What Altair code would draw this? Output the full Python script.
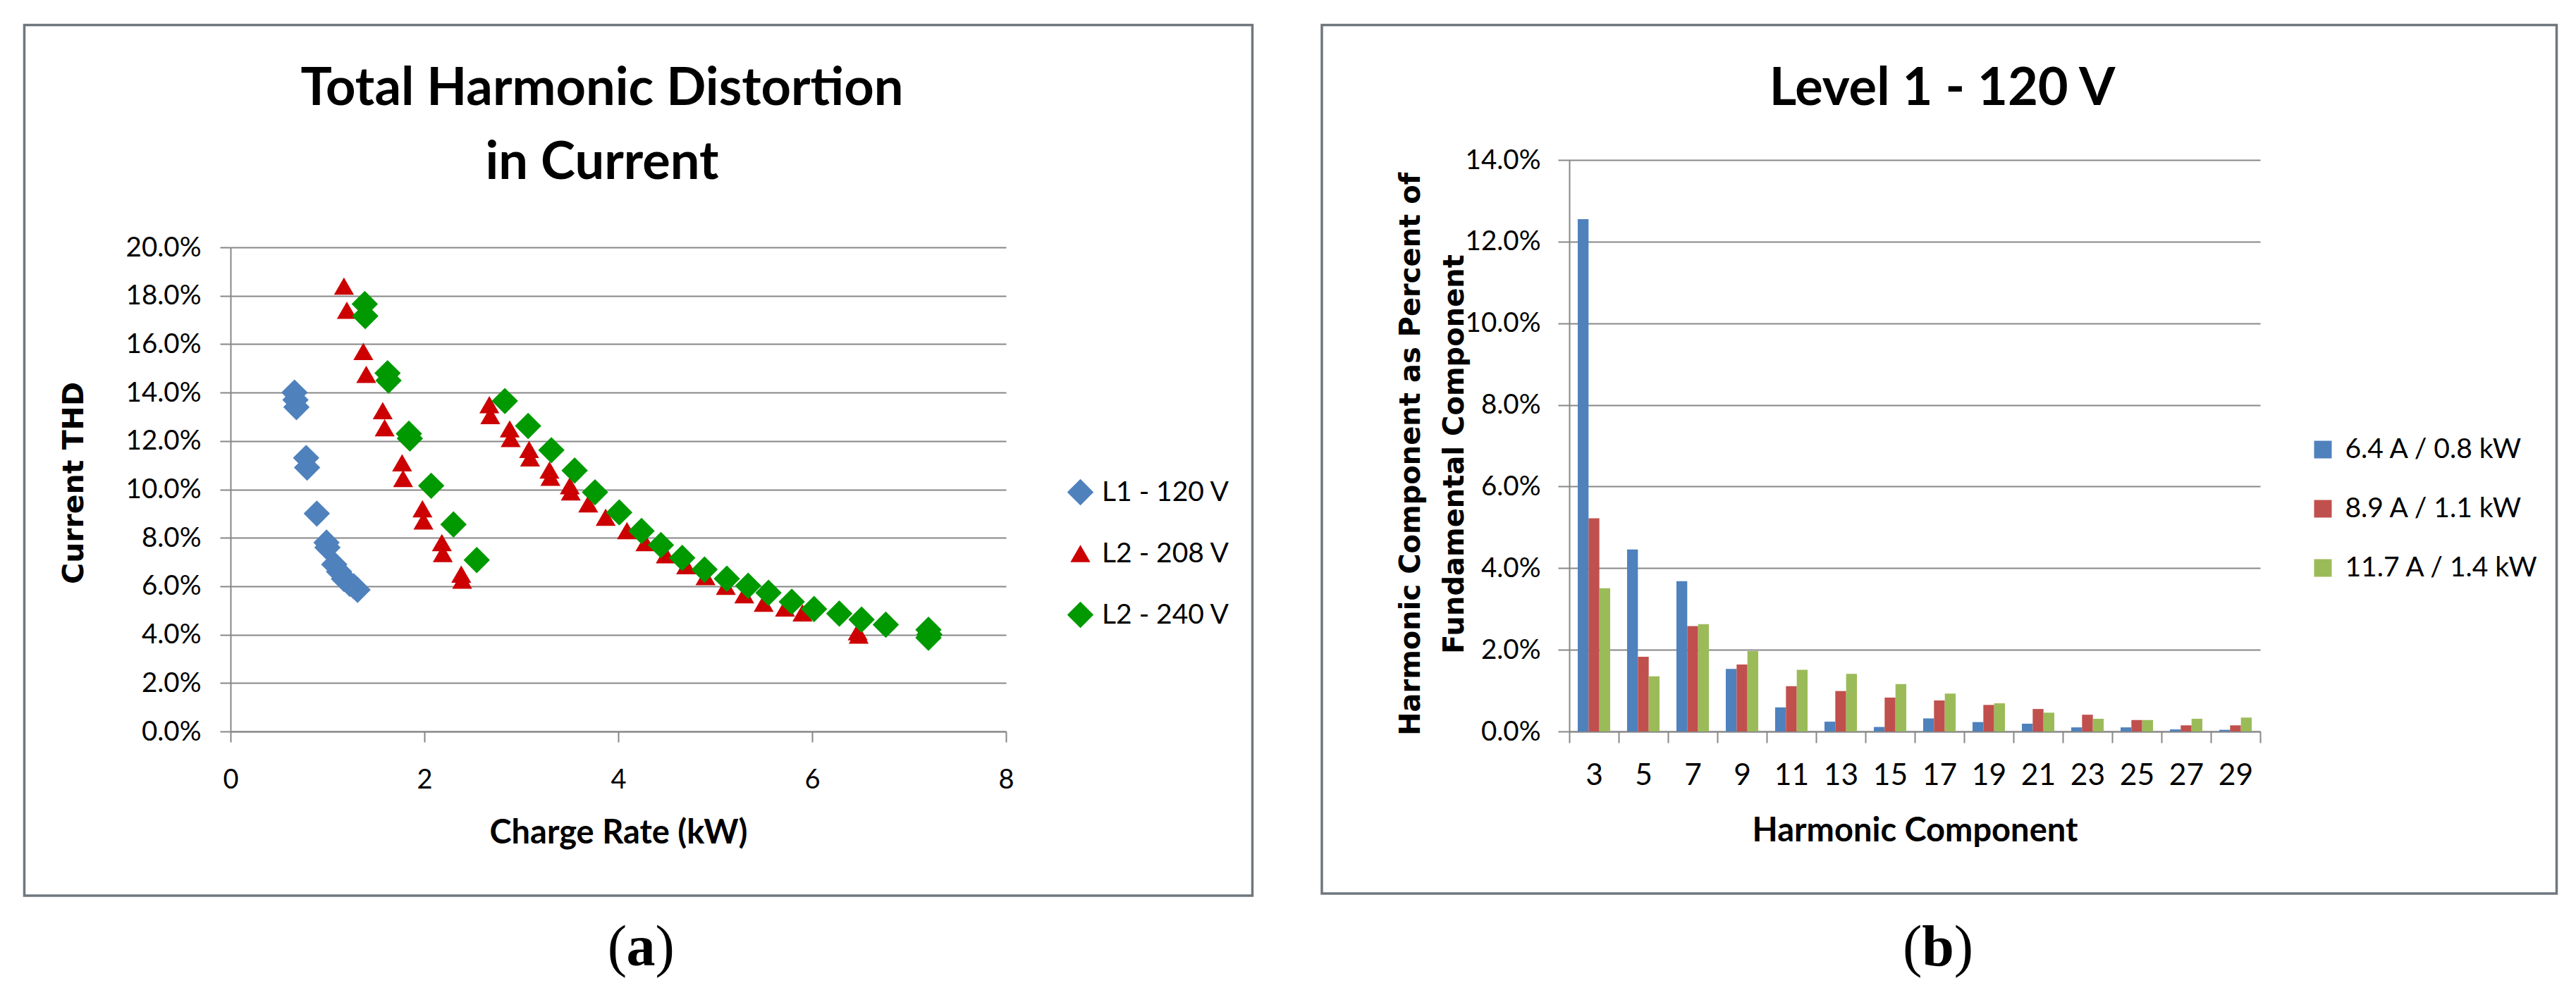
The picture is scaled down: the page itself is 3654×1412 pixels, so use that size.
import altair as alt
import pandas as pd

# ---------------- panel (a): Total Harmonic Distortion in Current ----------------
series_a = ["L1 - 120 V", "L2 - 208 V", "L2 - 240 V"]

l1_120_kw = [0.66, 0.67, 0.68, 0.78, 0.79, 0.89, 0.99, 1.00, 1.07, 1.12, 1.17, 1.23, 1.27, 1.31]
l1_120_thd = [14.0, 13.7, 13.4, 11.3, 10.9, 9.0, 7.8, 7.6, 6.9, 6.6, 6.3, 6.1, 6.0, 5.85]

l2_208_kw = [1.17, 1.20, 1.37, 1.40, 1.57, 1.59, 1.77, 1.78, 1.98, 1.99, 2.18, 2.19, 2.38, 2.39,
             2.67, 2.68, 2.88, 2.89, 3.08, 3.09, 3.29, 3.30, 3.50, 3.51, 3.69, 3.87, 4.09, 4.28,
             4.49, 4.70, 4.90, 5.11, 5.30, 5.50, 5.72, 5.90, 6.47, 6.48]
l2_208_thd = [18.4, 17.4, 15.7, 14.75, 13.25, 12.55, 11.1, 10.45, 9.2, 8.7, 7.8, 7.35, 6.5, 6.25,
              13.5, 13.05, 12.5, 12.1, 11.65, 11.3, 10.8, 10.5, 10.15, 9.9, 9.4, 8.85, 8.3, 7.8,
              7.3, 6.85, 6.4, 6.0, 5.65, 5.3, 5.1, 4.9, 4.12, 3.98]

l2_240_kw = [1.385, 1.39, 1.62, 1.63, 1.84, 1.85, 2.07, 2.30, 2.54, 2.83, 3.07, 3.31, 3.55, 3.76,
             4.01, 4.24, 4.44, 4.66, 4.89, 5.12, 5.34, 5.55, 5.79, 6.02, 6.28, 6.51, 6.76, 7.20,
             7.21, 7.20]
l2_240_thd = [17.66, 17.16, 14.8, 14.5, 12.3, 12.1, 10.15, 8.55, 7.08, 13.65, 12.62, 11.62, 10.78,
              9.88, 9.05, 8.28, 7.70, 7.17, 6.69, 6.31, 6.02, 5.73, 5.36, 5.06, 4.87, 4.62, 4.41,
              4.20, 4.00, 3.87]

x_ticks_a = [0, 2, 4, 6, 8]
y_ticks_a = [0, 2, 4, 6, 8, 10, 12, 14, 16, 18, 20]

# ---------------- panel (b): Level 1 - 120 V ----------------
harmonics = [3, 5, 7, 9, 11, 13, 15, 17, 19, 21, 23, 25, 27, 29]
series_b = ["6.4 A / 0.8 kW", "8.9 A / 1.1 kW", "11.7 A / 1.4 kW"]
pct_6_4a = [12.55, 4.46, 3.68, 1.53, 0.59, 0.24, 0.11, 0.32, 0.23, 0.19, 0.10, 0.10, 0.05, 0.04]
pct_8_9a = [5.22, 1.83, 2.58, 1.64, 1.11, 0.99, 0.83, 0.76, 0.65, 0.55, 0.41, 0.28, 0.15, 0.15]
pct_11_7a = [3.51, 1.35, 2.63, 1.97, 1.51, 1.41, 1.16, 0.93, 0.69, 0.46, 0.31, 0.28, 0.31, 0.34]
y_ticks_b = [0, 2, 4, 6, 8, 10, 12, 14]

# ---------------- tables ----------------
df_a = pd.concat([
    pd.DataFrame({"kw": l1_120_kw, "thd": l1_120_thd, "series": series_a[0]}),
    pd.DataFrame({"kw": l2_208_kw, "thd": l2_208_thd, "series": series_a[1]}),
    pd.DataFrame({"kw": l2_240_kw, "thd": l2_240_thd, "series": series_a[2]}),
], ignore_index=True)

df_b = pd.DataFrame({
    "harmonic": harmonics * 3,
    "pct": pct_6_4a + pct_8_9a + pct_11_7a,
    "load": [s for s in series_b for _ in harmonics],
})

one = pd.DataFrame({"k": [0]})

# ---------------- styling ----------------
GRID = "#878787"
BORDER = "#6f777e"
H = 811
W_A = 1100
W_B = 980
PCT = "format(datum.value, '.1f') + '%'"


def txt(s, x, y, size, weight="normal", font="Lato", align="center",
        baseline="alphabetic", angle=0):
    return alt.Chart(one).mark_text(
        text=s, font=font, fontSize=size, fontWeight=weight, align=align,
        baseline=baseline, angle=angle, color="black"
    ).encode(x=alt.value(x), y=alt.value(y))


def border(x1, x2, y1, y2):
    return alt.Chart(one).mark_rect(
        fillOpacity=0, stroke=BORDER, strokeWidth=3.5
    ).encode(x=alt.value(x1), x2=alt.value(x2), y=alt.value(y1), y2=alt.value(y2))


# ---------------- panel (a) ----------------
legend_a = alt.Legend(
    orient="none", legendX=1186, legendY=452, labelFontSize=39, labelColor="black",
    symbolSize=650, rowPadding=47, labelOffset=11, padding=0, symbolStrokeWidth=0,
    labelLimit=0,
)

points = alt.Chart(df_a).mark_point(filled=True, opacity=1).encode(
    x=alt.X(
        "kw:Q",
        scale=alt.Scale(domain=[0, 8], nice=False, zero=False),
        axis=alt.Axis(
            values=x_ticks_a, format="d", title="Charge Rate (kW)", grid=False,
            labelFlush=False, tickSize=15, tickWidth=2, tickColor=GRID,
            domainColor=GRID, domainWidth=2, labelFontSize=38, labelColor="black",
            labelPadding=35, titleFontSize=47, titleFontWeight="bold",
            titleColor="black", titleY=158, titleBaseline="alphabetic",
        ),
    ),
    y=alt.Y(
        "thd:Q",
        scale=alt.Scale(domain=[0, 20], range=[H, 124], nice=False),
        axis=alt.Axis(
            values=y_ticks_a, labelExpr=PCT, title="Current THD", grid=True,
            gridColor=GRID, gridWidth=2, tickSize=15, tickWidth=2, tickColor=GRID,
            domainColor=GRID, domainWidth=2, labelFontSize=38.5, labelColor="black",
            labelPadding=27, titleFont="DejaVu Sans", titleFontSize=41,
            titleFontWeight="bold", titleColor="black", titleAngle=270, titleX=-222,
            titleY=458, titleAlign="center", titleBaseline="middle",
        ),
    ),
    color=alt.Color(
        "series:N", title=None,
        scale=alt.Scale(domain=series_a, range=["#4f81bd", "#cc0000", "#009900"]),
        legend=legend_a,
    ),
    shape=alt.Shape(
        "series:N", title=None,
        scale=alt.Scale(domain=series_a, range=["diamond", "triangle-up", "diamond"]),
        legend=legend_a,
    ),
    size=alt.Size(
        "series:N",
        scale=alt.Scale(type="ordinal", domain=series_a, range=[1400, 800, 1400]),
        legend=None,
    ),
)

OX_A, OY = 326, 226
panel_a = alt.layer(
    border(33.5 - OX_A, 1775.5 - OX_A, 34.5 - OY, 1270 - OY),
    points,
    txt("Total Harmonic Distortion", 853 - OX_A, 148 - OY, 74, weight="bold"),
    txt("in Current", 853 - OX_A, 253 - OY, 74, weight="bold"),
    txt("(", 562, 1369 - OY, 82, font="Liberation Serif", align="right"),
    txt("a", 582, 1369 - OY, 82, weight="bold", font="Liberation Serif"),
    txt(")", 602.5, 1369 - OY, 82, font="Liberation Serif", align="left"),
).properties(width=W_A, height=H)

# ---------------- panel (b) ----------------
bars = alt.Chart(df_b).mark_bar().encode(
    x=alt.X(
        "harmonic:O",
        scale=alt.Scale(paddingInner=0, paddingOuter=0),
        axis=alt.Axis(
            title="Harmonic Component", labelAngle=0, tickBand="extent", grid=False,
            tickSize=16, tickWidth=2, tickColor=GRID, domainColor=GRID, domainWidth=2,
            labelFontSize=42.5, labelColor="black", labelPadding=25,
            titleFontSize=47, titleFontWeight="bold", titleColor="black",
            titleY=155, titleBaseline="alphabetic",
        ),
    ),
    xOffset=alt.XOffset(
        "load:N",
        scale=alt.Scale(domain=series_b, paddingInner=0, paddingOuter=0.78),
    ),
    y=alt.Y(
        "pct:Q",
        scale=alt.Scale(domain=[0, 14], nice=False),
        axis=alt.Axis(
            values=y_ticks_b, labelExpr=PCT,
            title=["Harmonic Component as Percent of", "Fundamental Component"],
            grid=True, gridColor=GRID, gridWidth=2, tickSize=16, tickWidth=2,
            tickColor=GRID, domainColor=GRID, domainWidth=2, labelFontSize=38.5,
            labelColor="black", labelPadding=25, titleFont="DejaVu Sans",
            titleFontSize=40, titleFontWeight="bold", titleColor="black",
            titleAngle=270, titleX=-225, titleY=417, titleAlign="center",
            titleBaseline="middle", titleLineHeight=62,
        ),
    ),
    color=alt.Color(
        "load:N", title=None,
        scale=alt.Scale(domain=series_b, range=["#4f81bd", "#c0504d", "#9bbb59"]),
        legend=alt.Legend(
            orient="none", legendX=1049.5, legendY=391.5, symbolType="square",
            symbolSize=625, labelFontSize=39, labelColor="black", rowPadding=44,
            labelOffset=12, padding=0, symbolStrokeWidth=0, labelLimit=0,
        ),
    ),
)

OX_B = 2224
panel_b = alt.layer(
    border(1873 - OX_B, 3624.5 - OX_B, 34.5 - OY, 1267 - OY),
    bars,
    txt("Level 1 - 120 V", 2753 - OX_B, 148 - OY, 74, weight="bold"),
    txt("(", 500.2, 1369 - OY, 82, font="Liberation Serif", align="right"),
    txt("b", 523, 1369 - OY, 82, weight="bold", font="Liberation Serif"),
    txt(")", 545.8, 1369 - OY, 82, font="Liberation Serif", align="left"),
).properties(width=W_B, height=H)

chart = alt.hconcat(panel_a, panel_b, spacing=94).resolve_scale(
    color="independent", shape="independent", size="independent"
).resolve_legend(
    color="independent", shape="independent", size="independent"
).properties(
    padding={"left": 24, "top": 25, "right": 10, "bottom": 10}
).configure(font="Lato").configure_view(strokeWidth=0)

chart.save("out.html", embed_options={"renderer": "svg", "actions": False})
